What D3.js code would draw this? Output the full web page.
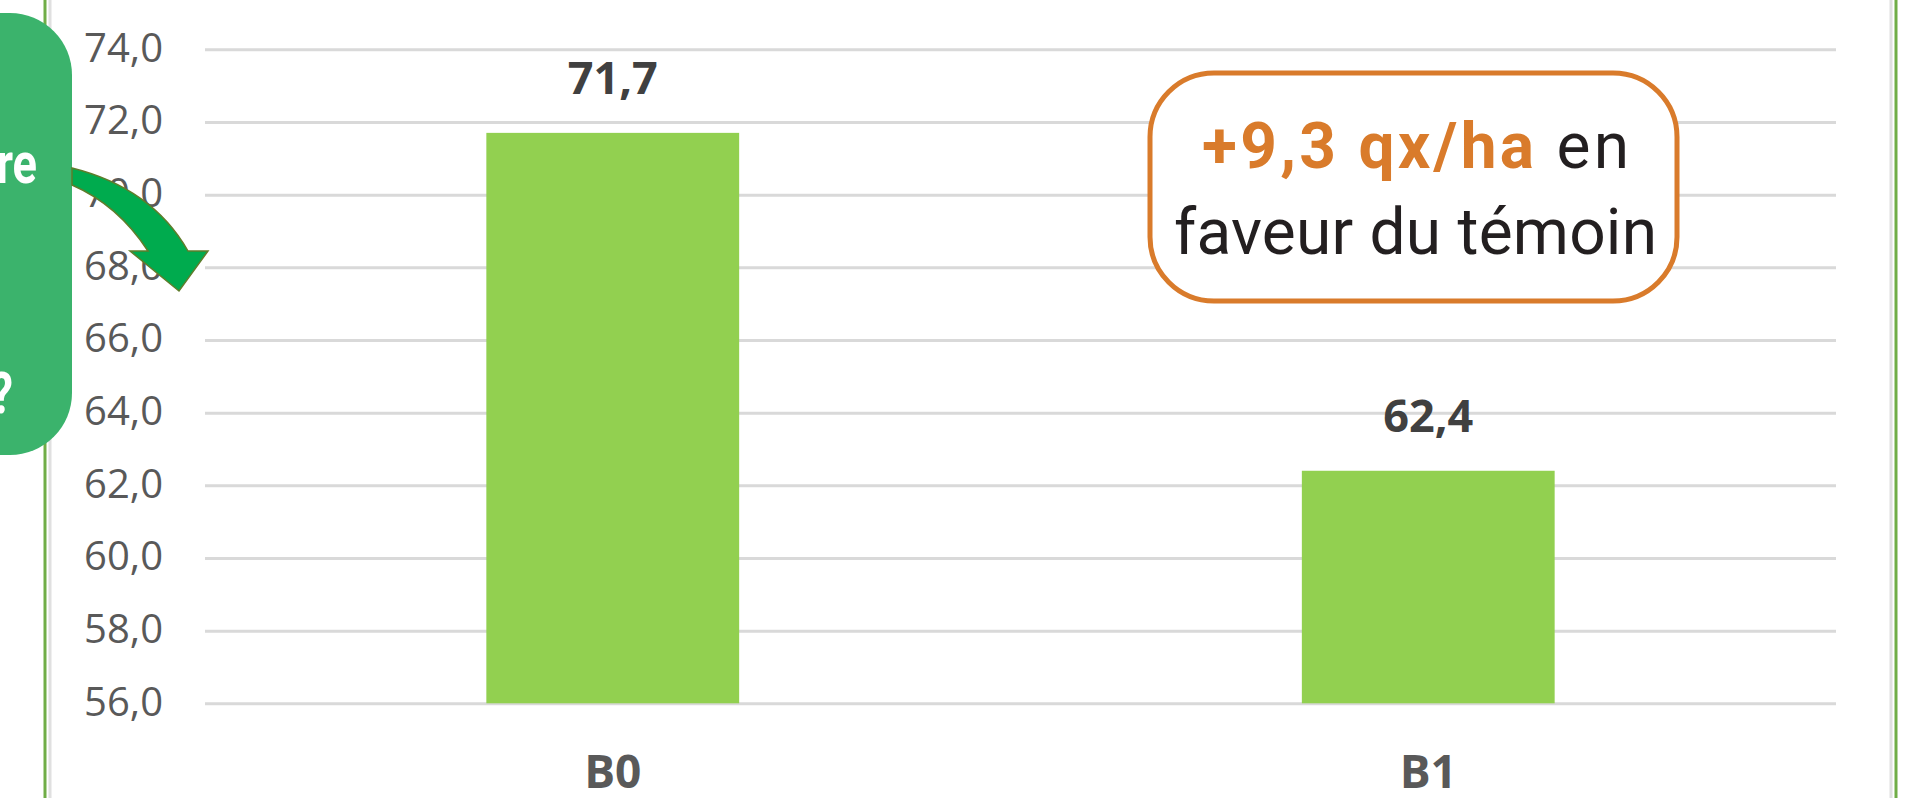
<!DOCTYPE html>
<html><head><meta charset="utf-8">
<script src="https://cdn.jsdelivr.net/npm/d3@7/dist/d3.min.js"></script>
<style>html,body{margin:0;padding:0;background:#fff;overflow:hidden}</style>
</head><body>
<svg id="c" width="1913" height="798"></svg>
<script>
const categories = ["B0", "B1"];
const values = [71.7, 62.4];
const yTicks = [56, 58, 60, 62, 64, 66, 68, 70, 72, 74];
const yDomain = [56, 74];
const noteBold = "+9,3 qx/ha";
const noteRest = " en";
const noteLine2 = "faveur du témoin";
const sideTextVisible = ["re", "?"];

(function () {
const W = 1913, H = 798;
const pLeft = 205, pRight = 1836, pTop = 49.3, pBottom = 703.3;
const svg = d3.select("#c");
const fr = d3.formatLocale({decimal: ",", thousands: " ", grouping: [3], currency: ["", "€"]});
const f1 = fr.format(".1f");

// frame borders
svg.append("line").attr("x1", 50).attr("x2", 50).attr("y1", 0).attr("y2", H).attr("stroke", "#e0e0e0").attr("stroke-width", 3);
svg.append("line").attr("x1", 45).attr("x2", 45).attr("y1", 0).attr("y2", H).attr("stroke", "#70AD47").attr("stroke-width", 3);
svg.append("line").attr("x1", 1891).attr("x2", 1891).attr("y1", 0).attr("y2", H).attr("stroke", "#e0e0e0").attr("stroke-width", 3);
svg.append("line").attr("x1", 1896).attr("x2", 1896).attr("y1", 0).attr("y2", H).attr("stroke", "#70AD47").attr("stroke-width", 3);

const x = d3.scaleBand().domain(categories).range([pLeft, pRight]).paddingInner(0.69).paddingOuter(0.345);
const y = d3.scaleLinear().domain(yDomain).range([pBottom, pTop]);

const yAxis = d3.axisLeft(y).tickValues(yTicks).tickFormat(f1).tickSize(-(pRight - pLeft)).tickPadding(42);
const ga = svg.append("g").attr("transform", `translate(${pLeft},0)`).call(yAxis);
ga.select(".domain").remove();
ga.selectAll(".tick line").attr("stroke", "#d9d9d9").attr("stroke-width", 3);
ga.selectAll(".tick text").attr("fill", "#595959").attr("font-family", "'Open Sans', sans-serif").attr("font-size", 40).attr("dy", "0.3em");

// bars
svg.selectAll("rect.bar").data(values).join("rect").attr("class", "bar")
  .attr("x", (d, i) => x(categories[i])).attr("width", x.bandwidth())
  .attr("y", d => y(d)).attr("height", d => y(yDomain[0]) - y(d))
  .attr("fill", "#92D050");

// value labels
svg.selectAll("text.val").data(values).join("text").attr("class", "val")
  .attr("x", (d, i) => x(categories[i]) + x.bandwidth() / 2)
  .attr("y", d => y(d) - 39)
  .attr("text-anchor", "middle").attr("fill", "#404040")
  .attr("font-family", "'Open Sans', sans-serif").attr("font-weight", "bold").attr("font-size", 45)
  .text(d => f1(d));

// category labels
const xAxis = d3.axisBottom(x).tickSize(0).tickPadding(0);
const gx = svg.append("g").attr("transform", `translate(0,${pBottom})`).call(xAxis);
gx.select(".domain").remove();
gx.selectAll(".tick text").attr("dy", 0).attr("y", 85).attr("fill", "#595959")
  .attr("font-family", "'Open Sans', sans-serif").attr("font-weight", "bold").attr("font-size", 46);

// left green callout box (partly off-page)
svg.append("rect").attr("x", -90).attr("y", 13).attr("width", 162).attr("height", 442).attr("rx", 62).attr("fill", "#3BB36C");
const side = svg.append("g").attr("font-family", "Roboto, sans-serif").attr("font-weight", "bold").attr("fill", "#fff").attr("font-size", 58);
side.append("text").attr("transform", "translate(37,183) scale(0.78,1)").attr("text-anchor", "end").text(sideTextVisible[0]);
side.append("text").attr("transform", "translate(13,413) scale(0.78,1)").attr("text-anchor", "end").text(sideTextVisible[1]);

// curved arrow
svg.append("path")
  .attr("d", "M72,168 Q152,188 188,251 L208,251 L179,291 L130,251 L148,251 Q118,205 72,185 Z")
  .attr("fill", "#00AB4E").attr("stroke", "#5E7D2B").attr("stroke-width", 1.5).attr("stroke-linejoin", "miter");

// annotation box
const bx = 1150, by = 73, bw = 527, bh = 228;
svg.append("rect").attr("x", bx).attr("y", by).attr("width", bw).attr("height", bh).attr("rx", 64)
  .attr("fill", "#fff").attr("stroke", "#D97B2B").attr("stroke-width", 5);
const cx = bx + bw / 2 + 2;
const t1 = svg.append("text").attr("x", cx).attr("y", 168).attr("text-anchor", "middle")
  .attr("font-family", "Roboto, sans-serif").attr("font-size", 64)
  .attr("textLength", 427).attr("lengthAdjust", "spacing");
t1.append("tspan").attr("fill", "#D97B2B").attr("font-weight", "bold").text(noteBold);
t1.append("tspan").attr("fill", "#231F20").text(noteRest);
svg.append("text").attr("x", cx).attr("y", 254).attr("text-anchor", "middle")
  .attr("font-family", "Roboto, sans-serif").attr("font-size", 64).attr("fill", "#231F20")
  .attr("textLength", 483).attr("lengthAdjust", "spacing").text(noteLine2);
})();
</script>
</body></html>
